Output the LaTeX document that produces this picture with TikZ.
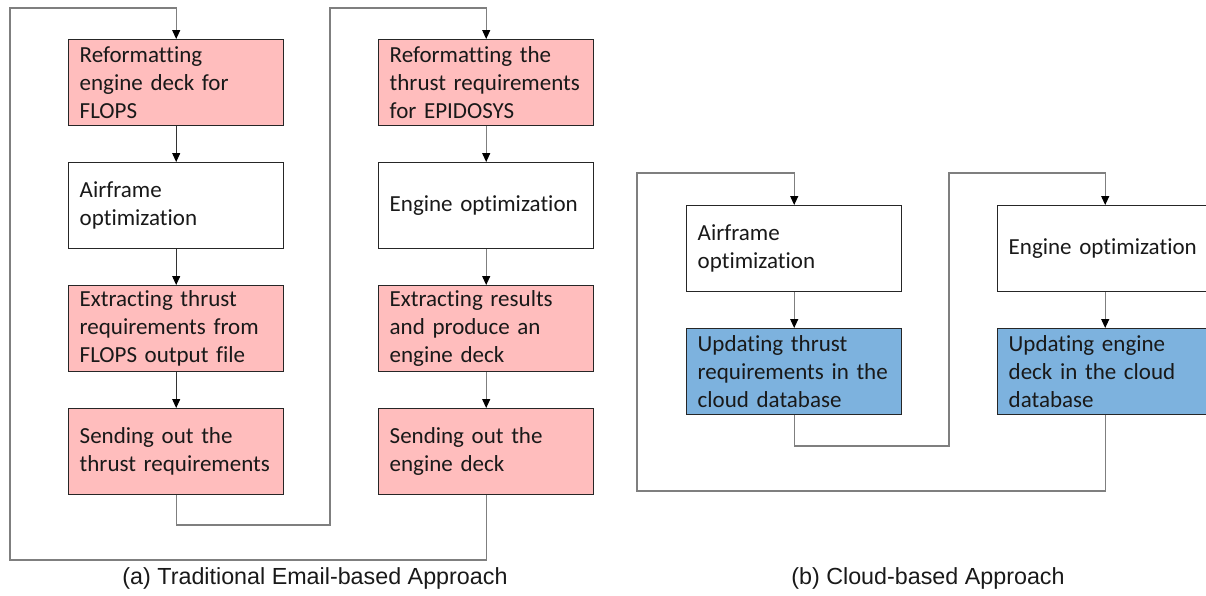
\documentclass[tikz,border=0pt]{standalone}
\usepackage{fontspec}
\setmainfont[RawFeature=-liga]{Carlito}
\newfontfamily\capfont{Liberation Sans}
\usetikzlibrary{arrows.meta}
\definecolor{rosefill}{HTML}{FFBDBD}
\definecolor{cloudfill}{HTML}{7DB2DE}
\definecolor{edgegray}{HTML}{7F7F7F}
\definecolor{boxline}{HTML}{262626}
\tikzset{
  stepbox/.style={draw=boxline, line width=1.4pt, rectangle, anchor=north west,
    minimum width=215pt, minimum height=86pt, text width=193pt,
    inner xsep=11pt, inner ysep=0pt, align=left, text=black!90,
    font=\fontsize{23pt}{28pt}\selectfont},
  manual/.style={stepbox, fill=rosefill},
  plain/.style={stepbox, fill=white},
  cloud/.style={stepbox, fill=cloudfill},
  tip/.style={-{Triangle[width=8pt,length=9pt,color=black]}},
  flow/.style={draw=black!80, line width=1pt, tip},
  loopback/.style={draw=edgegray, line width=1.1pt, tip},
  caption/.style={font=\capfont\fontsize{23.3pt}{27pt}\selectfont, text=black!90}
}
\begin{document}
\begin{tikzpicture}[x=1pt, y=-1pt]
\useasboundingbox (0,0) rectangle (1206,595);
\clip (0,0) rectangle (1206,595);

% (a) email-based workflow, airframe column
\node[manual] (L1) at (68,39)  {Reformatting\\engine deck for\\FLOPS};
\node[plain]  (L2) at (68,162) {Airframe\\optimization};
\node[manual] (L3) at (68,285) {Extracting thrust\\requirements from\\FLOPS output file};
\node[manual] (L4) at (68,408) {Sending out the\\thrust requirements};

% (a) email-based workflow, engine column
\node[manual] (R1) at (378,39)  {Reformatting the\\thrust requirements\\for EPIDOSYS};
\node[plain]  (R2) at (378,162) {Engine optimization};
\node[manual] (R3) at (378,285) {Extracting results\\and produce an\\engine deck};
\node[manual] (R4) at (378,408) {Sending out the\\engine deck};

% (b) cloud-based workflow
\node[plain] (C1) at (686,205) {Airframe\\optimization};
\node[cloud] (C2) at (686,328) {Updating thrust\\requirements in the\\cloud database};
\node[plain] (D1) at (997,205) {Engine optimization};
\node[cloud] (D2) at (997,328) {Updating engine\\deck in the cloud\\database};

% levels of the hand-over loops
\coordinate (aIn)  at (0,525);
\coordinate (aUp)  at (330,8);
\coordinate (aOut) at (0,560);
\coordinate (aTop) at (10,8);
\coordinate (bIn)  at (0,446);
\coordinate (bUp)  at (949,173);
\coordinate (bOut) at (0,491);
\coordinate (bTop) at (637,173);

% steps within each column
\draw[flow] (L1.south) -- (L2.north);
\draw[flow] (L2.south) -- (L3.north);
\draw[flow] (L3.south) -- (L4.north);
\draw[loopback] (R1.south) -- (R2.north);
\draw[loopback] (R2.south) -- (R3.north);
\draw[loopback] (R3.south) -- (R4.north);
\draw[loopback] (C1.south) -- (C2.north);
\draw[loopback] (D1.south) -- (D2.north);

% hand-over loops between the two disciplines
\draw[loopback] (L4.south) -- (L4.south |- aIn) -| (aUp) -| (R1.north);
\draw[loopback] (R4.south) -- (R4.south |- aOut) -| (aTop) -| (L1.north);
\draw[loopback] (C2.south) -- (C2.south |- bIn) -| (bUp) -| (D1.north);
\draw[loopback] (D2.south) -- (D2.south |- bOut) -| (bTop) -| (C1.north);

% captions
\node[caption] (capA) at (315,578) {(a) Traditional Email-based Approach};
\node[caption] (capB) at (928,578) {(b) Cloud-based Approach};
\end{tikzpicture}
\end{document}
